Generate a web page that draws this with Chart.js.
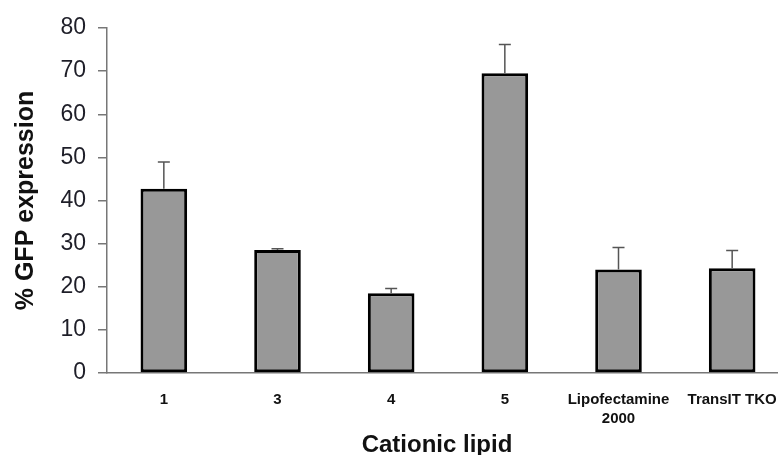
<!DOCTYPE html>
<html>
<head>
<meta charset="utf-8">
<script src="https://cdn.jsdelivr.net/npm/chart.js@4"></script>
<style>
  html, body { margin: 0; padding: 0; background: #fff; overflow: hidden; }
  #wrap { width: 792px; height: 455px; }
</style>
</head>
<body>
<div id="wrap"><canvas id="gfpChart"></canvas></div>
<script>
// data
const lipids = ['1', '3', '4', '5', ['Lipofectamine', '2000'], 'TransIT TKO'];
const gfpMean = [42.7, 28.5, 18.5, 69.5, 24.0, 24.3];
const gfpError = [6.2, 0.3, 1.1, 6.7, 5.1, 4.1];
const yTickValues = [0, 10, 20, 30, 40, 50, 60, 70, 80];

const FONT = '"Liberation Sans", Arial, sans-serif';

// only the upper half of the error bar is drawn, like the original
const errorBars = {
    id: 'errorBars',
    afterDatasetsDraw(chart) {
        const ctx = chart.ctx;
        const meta = chart.getDatasetMeta(0);
        const yScale = chart.scales.y;
        ctx.save();
        ctx.strokeStyle = '#555';
        ctx.lineWidth = 1.5;
        meta.data.forEach((bar, i) => {
            const top = yScale.getPixelForValue(gfpMean[i] + gfpError[i]);
            ctx.beginPath();
            ctx.moveTo(bar.x, bar.y);
            ctx.lineTo(bar.x, top);
            ctx.moveTo(bar.x - 6, top);
            ctx.lineTo(bar.x + 6, top);
            ctx.stroke();
        });
        ctx.restore();
    }
};

// x title sits a bit left of the plot centre in the original
const xTitle = {
    id: 'xTitle',
    afterDraw(chart) {
        const ctx = chart.ctx;
        ctx.save();
        ctx.font = 'bold 24px ' + FONT;
        ctx.fillStyle = '#111';
        ctx.textAlign = 'center';
        ctx.textBaseline = 'alphabetic';
        ctx.fillText('Cationic lipid', 437, 452);
        ctx.restore();
    }
};

let ctx = document.getElementById('gfpChart').getContext('2d');

let gfpChart = new Chart(ctx, {
    type: 'bar',
    data: {
        labels: lipids,
        datasets: [{
            label: '% GFP expression',
            data: gfpMean,
            backgroundColor: '#989898',
            borderColor: '#000',
            borderWidth: 3,
            borderSkipped: false,
            categoryPercentage: 1,
            barPercentage: 0.41
        }]
    },
    options: {
        responsive: true,
        maintainAspectRatio: false,
        animation: false,
        layout: { padding: { top: 28, right: 3, left: 0, bottom: 0 } },
        plugins: {
            legend: { display: false },
            tooltip: { enabled: false }
        },
        scales: {
            x: {
                grid: { display: false },
                border: { color: '#777', width: 1.5 },
                ticks: {
                    color: '#111',
                    padding: 9,
                    maxRotation: 0,
                    autoSkip: false,
                    font: { family: FONT, size: 15, weight: 'bold', lineHeight: 1.3 }
                },
                afterFit(scale) { scale.height = 82; }
            },
            y: {
                min: 0,
                max: 80,
                afterBuildTicks(scale) {
                    scale.ticks = yTickValues.map(v => ({ value: v }));
                },
                grid: {
                    drawOnChartArea: false,
                    tickLength: 9,
                    color: '#777',
                    lineWidth: 1.5
                },
                border: { color: '#777', width: 1.5 },
                ticks: {
                    color: '#1e1e28',
                    padding: 12,
                    font: { family: FONT, size: 23 }
                },
                title: {
                    display: true,
                    text: '% GFP expression',
                    color: '#111',
                    padding: { top: 11, bottom: 0 },
                    font: { family: FONT, size: 25, weight: 'bold' }
                },
                afterFit(scale) { scale.width = 107; }
            }
        }
    },
    plugins: [errorBars, xTitle]
});
</script>
</body>
</html>
